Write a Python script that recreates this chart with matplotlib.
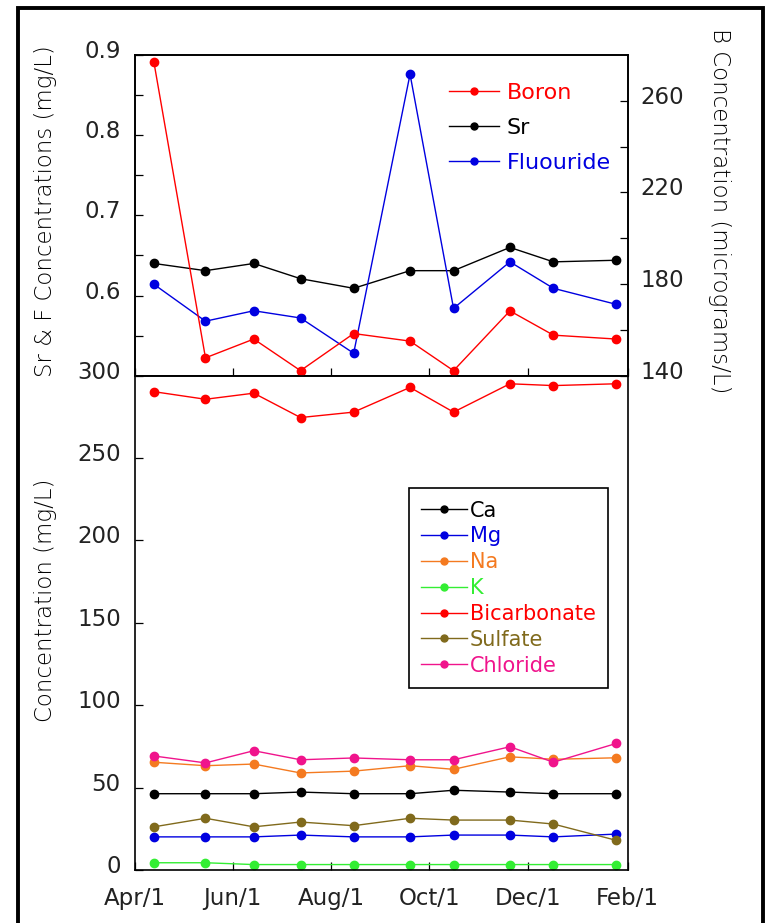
import datetime as dt
import matplotlib
matplotlib.use("Agg")
import matplotlib.pyplot as plt
from matplotlib.transforms import ScaledTranslation
from matplotlib.patches import Rectangle

plt.rcParams['font.family'] = ['DejaVu Sans']

# sampling dates (one water year)
sample_dates = ['2003-04-13', '2003-05-15', '2003-06-14', '2003-07-13', '2003-08-15',
                '2003-09-19', '2003-10-16', '2003-11-20', '2003-12-17', '2004-01-25']

# top panel: Sr & F (mg/L, left axis), boron (micrograms/L, right axis)
sr = [0.640, 0.631, 0.640, 0.621, 0.609, 0.631, 0.631, 0.660, 0.642, 0.644]
fluoride = [0.614, 0.568, 0.581, 0.572, 0.528, 0.876, 0.584, 0.642, 0.609, 0.589]
boron = [276.8, 147.8, 156.0, 142.2, 158.4, 155.1, 142.2, 168.3, 157.7, 156.0]

# bottom panel: major ions (mg/L)
ca = [46.3, 46.3, 46.3, 47.3, 46.3, 46.3, 48.4, 47.3, 46.3, 46.3]
mg = [20.1, 20.1, 20.1, 21.2, 20.1, 20.1, 21.2, 21.2, 20.1, 21.8]
na = [65.4, 63.3, 64.3, 58.9, 60.0, 63.3, 61.1, 68.7, 67.2, 68.1]
k = [4.4, 4.4, 3.3, 3.3, 3.3, 3.3, 3.3, 3.3, 3.3, 3.3]
bicarbonate = [290.3, 285.7, 289.4, 274.6, 277.9, 292.9, 277.9, 295.1, 294.0, 295.1]
sulfate = [26.2, 31.4, 26.2, 29.1, 26.9, 31.4, 30.3, 30.3, 27.9, 18.0]
chloride = [69.2, 65.0, 72.4, 66.9, 68.0, 66.9, 66.9, 74.8, 65.4, 76.8]

tick_dates = ['2003-04-01', '2003-06-01', '2003-08-01', '2003-10-01', '2003-12-01', '2004-02-01']
tick_labels = ['Apr/1', 'Jun/1', 'Aug/1', 'Oct/1', 'Dec/1', 'Feb/1']

ions = [('Ca', ca, 'black'), ('Mg', mg, '#0000e0'), ('Na', na, '#f47a20'),
        ('K', k, '#33ee33'), ('Bicarbonate', bicarbonate, '#ff0000'),
        ('Sulfate', sulfate, '#806a1c'), ('Chloride', chloride, '#f0148c')]

dates = [dt.datetime.strptime(d, '%Y-%m-%d') for d in sample_dates]
tdates = [dt.datetime.strptime(d, '%Y-%m-%d') for d in tick_dates]

W, H = 765, 923
fig = plt.figure(figsize=(W / 100, H / 100), dpi=100)

left = 134.6 / W
width = (627.5 - 134.6) / W
ax_top = fig.add_axes([left, 1 - 375.7 / H, width, (375.7 - 55) / H])
ax_bot = fig.add_axes([left, 1 - 870 / H, width, (870 - 375.7) / H])
ax_b = ax_top.twinx()

FS = 16.5
tick_kw = dict(direction='in', length=6, width=0.9, labelsize=FS, labelcolor='#222222')
line_kw = dict(marker='o', ms=6, lw=1.0)

# top panel
l_b, = ax_b.plot(dates, boron, color='#ff0000', label='Boron', **line_kw)
l_sr, = ax_top.plot(dates, sr, color='black', label='Sr', **line_kw)
l_f, = ax_top.plot(dates, fluoride, color='#0000e0', label='Fluouride', **line_kw)

ax_top.set_ylim(0.5, 0.9)
ax_top.set_yticks([0.6, 0.7, 0.8, 0.9])
ax_top.set_yticks([0.55, 0.65, 0.75, 0.85], minor=True)
ax_b.set_ylim(140, 280)
ax_b.set_yticks([140, 180, 220, 260])
ax_b.set_yticks([160, 200, 240], minor=True)

# bottom panel
for name, vals, col in ions:
    ax_bot.plot(dates, vals, color=col, label=name, **line_kw)
ax_bot.set_ylim(0, 300)
ax_bot.set_yticks(range(0, 301, 50))

for ax in (ax_top, ax_bot, ax_b):
    ax.set_xlim(tdates[0], tdates[-1])
    ax.set_xticks(tdates)
    for sp in ax.spines.values():
        sp.set_linewidth(1.2)
    ax.tick_params(which='both', **tick_kw)

ax_top.set_xticklabels([])
ax_bot.set_xticklabels(tick_labels)
ax_top.tick_params(axis='y', which='both', left=True, right=False, pad=10)
ax_bot.tick_params(axis='y', right=False, pad=10)
ax_b.tick_params(axis='y', which='both', right=True, left=False, pad=9)
ax_bot.tick_params(axis='x', pad=12)

# lift y tick labels slightly like the original
shift = ScaledTranslation(0, 6 / 100, fig.dpi_scale_trans)
for ax in (ax_top, ax_bot, ax_b):
    for lab in ax.get_yticklabels():
        lab.set_transform(lab.get_transform() + shift)

leg1 = ax_b.legend(handles=[l_b, l_sr, l_f], loc='upper left',
                   bbox_to_anchor=(0.638, 0.912), frameon=False, fontsize=16,
                   handlelength=2.25, handletextpad=0.35, labelspacing=0.66,
                   borderpad=0, borderaxespad=0, labelcolor='linecolor')
for h in leg1.legend_handles:
    h.set_markersize(5)

leg2 = ax_bot.legend(loc='upper left', bbox_to_anchor=(0.556, 0.7728),
                     fontsize=15, handlelength=2.2, handletextpad=0.15,
                     labelspacing=0.28, borderpad=0.6, borderaxespad=0,
                     fancybox=False, edgecolor='black', framealpha=1,
                     labelcolor='linecolor')
leg2.get_frame().set_linewidth(1.2)
for h in leg2.legend_handles:
    h.set_markersize(5)

lab_kw = dict(fontsize=16.5, fontweight='light', color='black', ha='center', va='center')
fig.text(46 / W, 1 - 211 / H, 'Sr & F Concentrations (mg/L)', rotation=90, **lab_kw)
fig.text(46 / W, 1 - 600 / H, 'Concentration (mg/L)', rotation=90, **lab_kw)
fig.text(719 / W, 1 - 211 / H, 'B Concentration (micrograms/L)', rotation=-90, **lab_kw)

# outer frame of the original figure
fig.patches.append(Rectangle((17.5 / W, -0.05), (763 - 17.5) / W, 1.05 - 7.5 / H,
                             transform=fig.transFigure, fill=False,
                             edgecolor='black', linewidth=2.8))

fig.savefig('out.png', dpi=100)
